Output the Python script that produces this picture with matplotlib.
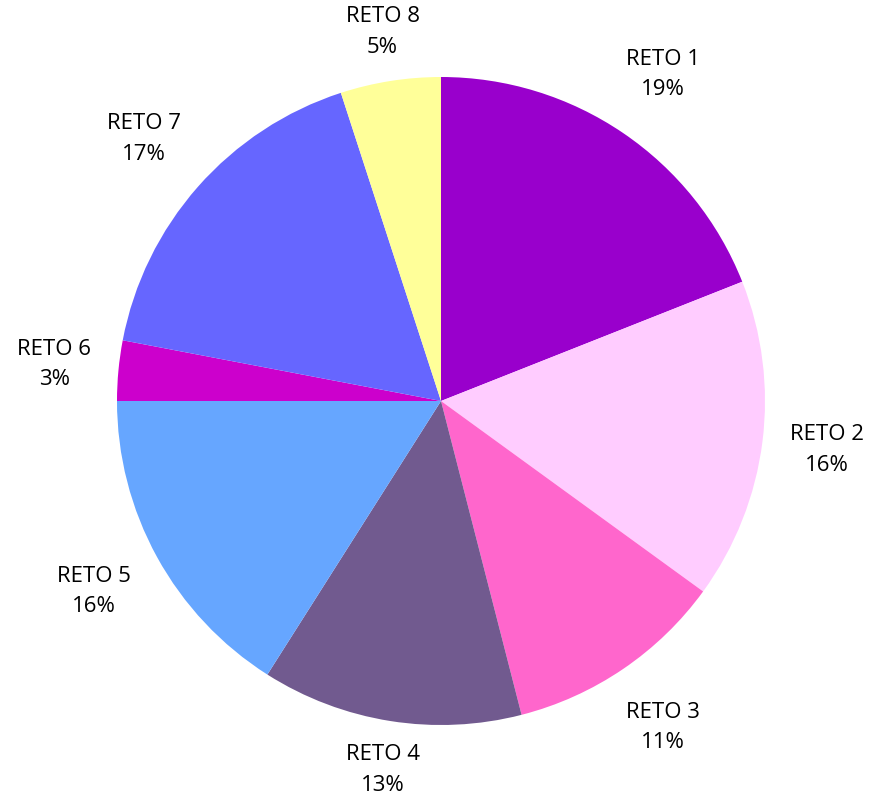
import numpy as np
import matplotlib.pyplot as plt

labels = ['RETO 1', 'RETO 2', 'RETO 3', 'RETO 4', 'RETO 5', 'RETO 6', 'RETO 7', 'RETO 8']
values = [19, 16, 11, 13, 16, 3, 17, 5]
colors = ['#9900CC', '#FFCCFF', '#FF66CC', '#715A8F', '#66A6FF', '#CC00CC', '#6666FF', '#FFFF99']

plt.rcParams['font.family'] = ['Open Sans', 'DejaVu Sans']

fig = plt.figure(figsize=(8.7, 8), dpi=100)
ax = fig.add_axes([0, 0, 1, 1])

wedges, _ = ax.pie(values, colors=colors, startangle=90, counterclock=False,
                   wedgeprops={'linewidth': 0})

# 1 data unit = 324 px, pie centre at (441, 401) px
r = 324
ymax = 369 / r  # keep labels inside the chart area, like Excel does

# labels sit just outside the pie, box edge at a roughly fixed gap
for w, name, v in zip(wedges, labels, values):
    mid = np.deg2rad((w.theta1 + w.theta2) / 2)
    c, s = np.cos(mid), np.sin(mid)
    rr = 1.077 + 0.114 * abs(c) + 0.093 * abs(s)
    rr = min(rr, ymax / max(abs(s), 1e-6))
    ax.text(rr * c, rr * s, f'{name}\n{v}%', ha='center', va='center',
            fontsize=16, linespacing=1.6, color='black')

ax.set_xlim(-441 / r, (870 - 441) / r)
ax.set_ylim(-(800 - 401) / r, 401 / r)
ax.set_aspect('auto')
ax.axis('off')

fig.savefig('out.png', dpi=100, facecolor='white')
